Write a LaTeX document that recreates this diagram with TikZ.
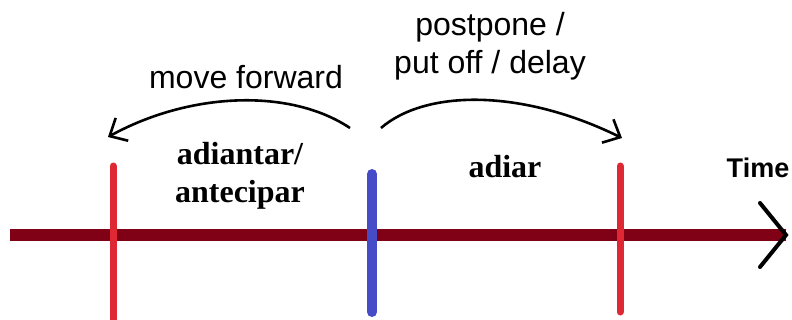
\documentclass[tikz,border=0pt]{standalone}
\usepackage{fontspec}
\setmainfont{Liberation Serif}
\setsansfont{Liberation Sans}
\usetikzlibrary{arrows.meta,calc}
\definecolor{axisred}{RGB}{128,0,22}
\definecolor{tickred}{RGB}{222,40,52}
\definecolor{tickblue}{RGB}{70,76,200}
\tikzset{
  axisline/.style={draw=axisred, line width=12pt},
  chevron/.style={draw=black, line width=4pt, line cap=round},
  redtick/.style={draw=tickred, line width=7pt, line cap=round},
  bluetick/.style={draw=tickblue, line width=10pt, line cap=round},
  curvearrow/.style={draw=black, line width=2.6pt, -{Straight Barb[length=14pt,width=26pt]}},
  sanslabel/.style={font=\sffamily\fontsize{32}{38}\selectfont, align=center, inner sep=0pt},
  seriflabel/.style={font=\rmfamily\bfseries\fontsize{32}{38}\selectfont, align=center, inner sep=0pt},
  timelabel/.style={font=\sffamily\bfseries\fontsize{27}{32}\selectfont, inner sep=0pt}
}
\begin{document}
\begin{tikzpicture}[x=1pt,y=-1pt]
  \useasboundingbox (0,0) rectangle (792,320);

  % time axis
  \coordinate (a0) at (10,235);
  \coordinate (a1) at (786,235);
  \draw[axisline] (a0) -- (a1);
  \draw[chevron] ($(a1)+(-26,-32)$) -- (a1) -- ($(a1)+(-26,32)$);
  \node[timelabel] (time) at (758,168) {Time};

  % moments on the axis
  \coordinate (l0) at (113,166);
  \coordinate (l1) at (113,322);
  \coordinate (n0) at (372,174);
  \coordinate (n1) at (372,312);
  \coordinate (r0) at (620,166);
  \coordinate (r1) at (620,312);
  \draw[redtick] (l0) -- (l1);
  \draw[bluetick] (n0) -- (n1);
  \draw[redtick] (r0) -- (r1);

  % curved arrows
  \coordinate (lfrom) at (350,128);
  \coordinate (lto) at (108,137);
  \coordinate (rfrom) at (381,128);
  \coordinate (rto) at (622,138);
  \draw[curvearrow] (lfrom) .. controls (290,88) and (190,92) .. (lto);
  \draw[curvearrow] (rfrom) .. controls (425,90) and (520,88) .. (rto);

  % labels
  \node[sanslabel] (fwd) at (246,77) {move forward};
  \node[sanslabel] (post) at (490,46) {postpone /\\put off / delay};
  \node[seriflabel] (adiant) at (240,176) {adiantar/\\antecipar};
  \node[seriflabel] (adiar) at (505,167) {adiar};
\end{tikzpicture}
\end{document}
